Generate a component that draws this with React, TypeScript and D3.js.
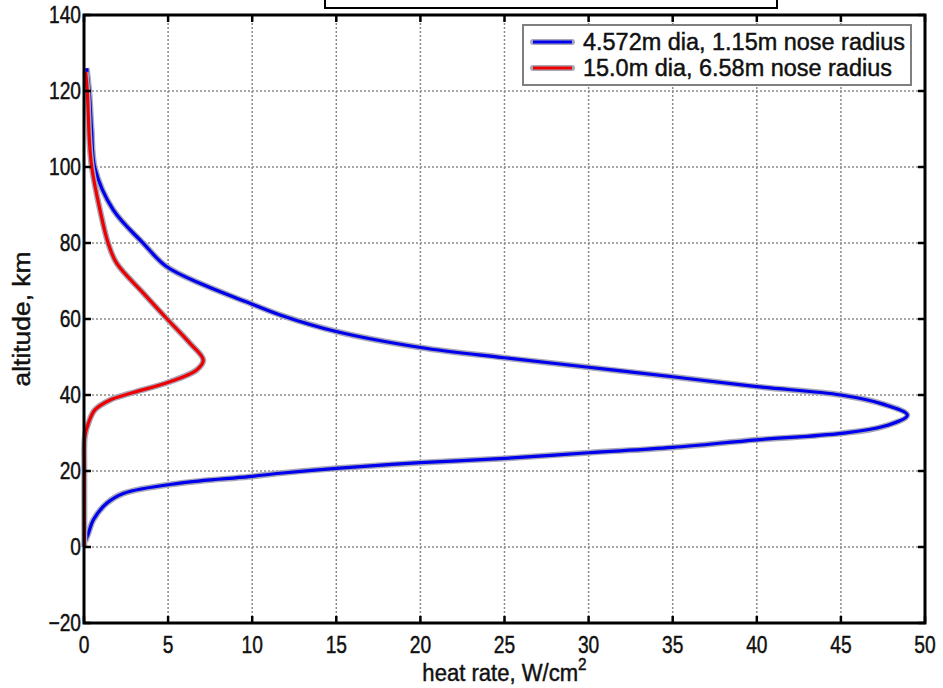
import React from "react";
import * as d3 from "d3";

// altitude (km) / heat rate (W/cm^2)
const smallAlt = [126, 119.4, 110, 99.7, 88.7, 79.9, 73.8, 69, 64.6, 61, 56.7, 52.5, 49.8, 47.3, 44.8, 42.2, 40, 37.6, 34.7, 31.7, 29.9, 28.2, 26.2, 24.8, 23.3, 22.2, 20.7, 19.4, 18.5, 16.8, 14.1, 11.5, 7.1, 3.6, 1.5];
const smallHeat = [0.16, 0.32, 0.45, 0.65, 1.74, 3.53, 4.9, 7.1, 9.6, 11.7, 15, 20, 25, 30, 35, 40, 45, 47.5, 48.95, 47.5, 45, 40, 35, 30, 25, 20, 15, 11.65, 9.8, 5.7, 2.34, 1.35, 0.55, 0.26, 0.08];

const largeAlt = [125, 119.4, 106.2, 99.7, 88.7, 79.9, 74.7, 66.8, 60.2, 53.6, 49.2, 46.6, 43.5, 40.4, 38.7, 36.1, 32.6, 29, 20, 10, 0];
const largeHeat = [0.1, 0.2, 0.33, 0.47, 0.95, 1.44, 1.94, 3.53, 4.9, 6.3, 7.09, 6.7, 5.11, 2.73, 1.55, 0.65, 0.26, 0.05, 0.02, 0.02, 0.02];

const xTicks = [0, 5, 10, 15, 20, 25, 30, 35, 40, 45, 50];
const yTicks = [-20, 0, 20, 40, 60, 80, 100, 120, 140];

const seriesNames = ["4.572m dia, 1.15m nose radius", "15.0m dia, 6.58m nose radius"];
const seriesColors = ["#0000ee", "#ee0000"];

const W = 943;
const H = 688;
const margin = { top: 15, right: 18, bottom: 65, left: 84 };
const font = "'Liberation Sans', Arial, sans-serif";

// text with a horizontal stretch factor, to mimic the original's lettering
const T = ({ x, y, size, anchor = "start", sx = 0.8, rotate = 0, children }: any) => (
  <text
    transform={`translate(${x},${y}) rotate(${rotate}) scale(${sx},1)`}
    textAnchor={anchor}
    fontFamily={font}
    fontSize={size}
    fill="#111"
    stroke="#111"
    strokeWidth={0.45}
  >
    {children}
  </text>
);

export default function App() {
  const x = d3.scaleLinear().domain([0, 50]).range([margin.left, W - margin.right]);
  const y = d3.scaleLinear().domain([-20, 140]).range([H - margin.bottom, margin.top]);

  const line = d3
    .line<[number, number]>()
    .x((d) => x(d[0]))
    .y((d) => y(d[1]))
    .curve(d3.curveCatmullRom.alpha(0.5));

  const series = [
    smallAlt.map((a, i) => [smallHeat[i], a] as [number, number]),
    largeAlt.map((a, i) => [largeHeat[i], a] as [number, number]),
  ];

  const [x0, x1] = x.range();
  const [y0, y1] = y.range();
  const tick = 7;

  return (
    <svg width={W} height={H} style={{ position: "absolute", left: 0, top: 0, background: "#fff" }}>
      {/* title box, cut off at the top */}
      <rect x={325} y={-10} width={452} height={18} fill="#fff" stroke="#000" strokeWidth={2} />

      {/* grid */}
      <g stroke="#8a8a8a" strokeWidth={1.5} strokeDasharray="2,2">
        {xTicks.slice(1, -1).map((t) => (
          <line key={"gx" + t} x1={x(t)} x2={x(t)} y1={y1} y2={y0} />
        ))}
        {yTicks.slice(1, -1).map((t) => (
          <line key={"gy" + t} x1={x0} x2={x1} y1={y(t)} y2={y(t)} />
        ))}
      </g>

      {/* curves */}
      {series.map((s, i) => (
        <g key={i}>
          <path d={line(s) ?? ""} fill="none" stroke="#a8a8b8" strokeWidth={6} />
          <path d={line(s) ?? ""} fill="none" stroke={seriesColors[i]} strokeWidth={3.2} />
        </g>
      ))}

      {/* ticks */}
      <g stroke="#000" strokeWidth={2.5}>
        {xTicks.map((t) => (
          <g key={"tx" + t}>
            <line x1={x(t)} x2={x(t)} y1={y0} y2={y0 - tick} />
            <line x1={x(t)} x2={x(t)} y1={y1} y2={y1 + tick} />
          </g>
        ))}
        {yTicks.map((t) => (
          <g key={"ty" + t}>
            <line x1={x0} x2={x0 + tick} y1={y(t)} y2={y(t)} />
            <line x1={x1} x2={x1 - tick} y1={y(t)} y2={y(t)} />
          </g>
        ))}
      </g>

      {/* frame */}
      <rect x={x0} y={y1} width={x1 - x0} height={y0 - y1} fill="none" stroke="#000" strokeWidth={3} />

      {/* tick labels */}
      {xTicks.map((t) => (
        <T key={"lx" + t} x={x(t)} y={y0 + 30} size={24} anchor="middle">
          {t}
        </T>
      ))}
      {yTicks.map((t) => (
        <T key={"ly" + t} x={x0 - 3} y={y(t) + 8} size={24} anchor="end">
          {t === -20 ? "\u221220" : t}
        </T>
      ))}

      {/* axis titles */}
      <T x={(x0 + x1) / 2} y={y0 + 58} size={23} sx={0.96} anchor="middle">
        heat rate, W/cm<tspan dy={-11} fontSize={16}>2</tspan>
      </T>
      <T x={30} y={(y0 + y1) / 2} size={24} sx={1.1} anchor="middle" rotate={-90}>
        altitude, km
      </T>

      {/* legend */}
      <g>
        <rect x={523} y={25} width={388} height={60} fill="#fff" stroke="#808080" strokeWidth={2} />
        {seriesNames.map((name, i) => {
          const ly = 42 + i * 26;
          return (
            <g key={name}>
              <line x1={533} x2={572} y1={ly} y2={ly} stroke="#a8a8b8" strokeWidth={6} strokeLinecap="round" />
              <line x1={533} x2={572} y1={ly} y2={ly} stroke={seriesColors[i]} strokeWidth={3} />
              <T x={583} y={ly + 8} size={23} sx={1.02}>
                {name}
              </T>
            </g>
          );
        })}
      </g>
    </svg>
  );
}
